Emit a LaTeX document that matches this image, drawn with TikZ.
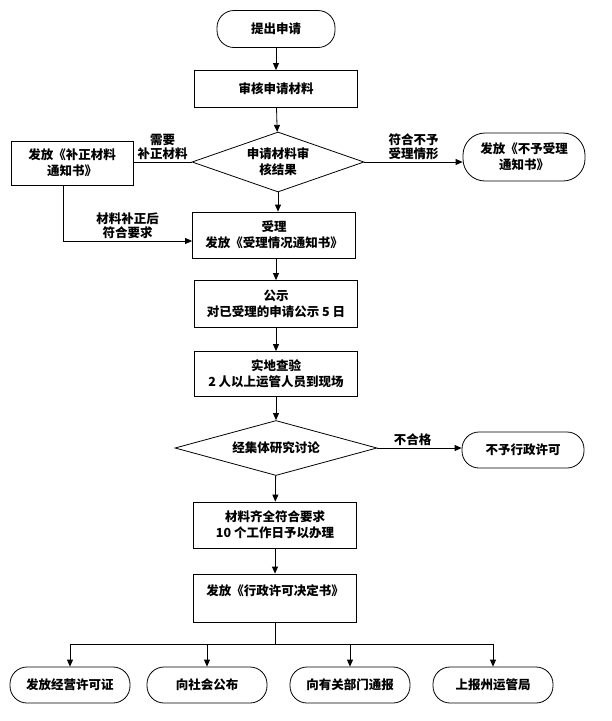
\documentclass[tikz,border=0pt]{standalone}
\usepackage{fontspec}
\setmainfont{Noto Sans CJK SC}
\usetikzlibrary{shapes.geometric,arrows.meta}
\tikzstyle{base}=[font=\fontsize{12.5}{16}\selectfont\bfseries,align=center,inner sep=2pt]
\tikzstyle{stepbox}=[base,draw,line width=0.8pt,minimum width=163pt,minimum height=46pt]
\tikzstyle{terminal}=[base,draw,line width=0.8pt,rounded corners=17pt,minimum width=122pt,minimum height=36pt]
\tikzstyle{decision}=[base,draw,line width=0.8pt,diamond,inner sep=0pt]
\tikzstyle{arrow}=[-{Triangle[length=7pt,width=6pt]},line width=0.8pt]
\tikzstyle{line}=[line width=0.8pt]
\tikzstyle{lbl}=[font=\fontsize{12.5}{14}\selectfont\bfseries,align=center,inner sep=2pt]

\begin{document}
\begin{tikzpicture}[x=1pt,y=-1pt]
	\useasboundingbox (0,0) rectangle (612,721);
	% main column
	\node[terminal,minimum width=118pt,minimum height=37pt] (start) at (276,29) {提出申请};
	\node[stepbox,minimum height=37pt] (review) at (276,89) {审核申请材料};
	\node[decision,aspect=2.87,minimum width=172pt,minimum height=60pt] (check) at (278,162) {申请材料审\\核结果};
	\node[stepbox] (accept) at (274,235) {受理\\发放《受理情况通知书》};
	\node[stepbox,minimum height=47pt] (notice) at (276,304) {公示\\对已受理的申请公示 5 日};
	\node[stepbox,minimum height=45pt] (inspect) at (276,374) {实地查验\\2 人以上运管人员到现场};
	\node[decision,aspect=3.67,minimum width=202pt,minimum height=55pt] (discuss) at (276,448) {经集体研究讨论};
	\node[stepbox] (complete) at (275,525) {材料齐全符合要求\\10 个工作日予以办理};
	\node[stepbox,minimum height=48pt] (decide) at (275,598) {发放《行政许可决定书》\\ \mbox{}};
	% side branches
	\node[stepbox,minimum width=122pt,minimum height=44pt] (supp) at (72,163) {发放《补正材料\\通知书》};
	\node[terminal,rounded corners=22pt,minimum height=48pt] (reject) at (524,157) {发放《不予受理\\通知书》};
	\node[terminal] (deny) at (523,450) {不予行政许可};
	% results
	\foreach \x/\name/\txt in {70/b1/发放经营许可证,207/b2/向社会公布,350/b3/向有关部门通报,493/b4/上报州运管局}
		\node[terminal,minimum width=120pt] (\name) at (\x,685) {\txt};

	\draw[arrow] (start) -- (review);
	\draw[arrow] (review) -- (check);
	\draw[line] (check.west) -- (check.west -| supp.east) node[lbl,midway,above] {需要\\补正材料};
	\draw[arrow] (check.east) -- (check.east -| reject.west) node[lbl,midway,above] {符合不予\\受理情形};
	\draw[arrow] (check.south) -- (check.south |- accept.north);
	\draw[arrow] (supp.south) ++(-9,0) |- ([yshift=-6pt]accept.west) node[lbl,pos=0.75,above] {材料补正后\\符合要求};
	\draw[arrow] (accept.south -| notice) -- (notice);
	\draw[arrow] (notice) -- (inspect);
	\draw[arrow] (inspect) -- (discuss);
	\draw[arrow] (discuss.east) -- (discuss.east -| deny.west) node[lbl,midway,above,xshift=-7pt] {不合格};
	\draw[arrow] (discuss) -- (complete);
	\draw[arrow] (complete) -- (decide);
	\draw[line] (decide.south) -- ++(0,22) coordinate (split);
	\foreach \name in {b1,b2,b3,b4}
		\draw[arrow] (split) -| (\name.north);
\end{tikzpicture}
\end{document}
